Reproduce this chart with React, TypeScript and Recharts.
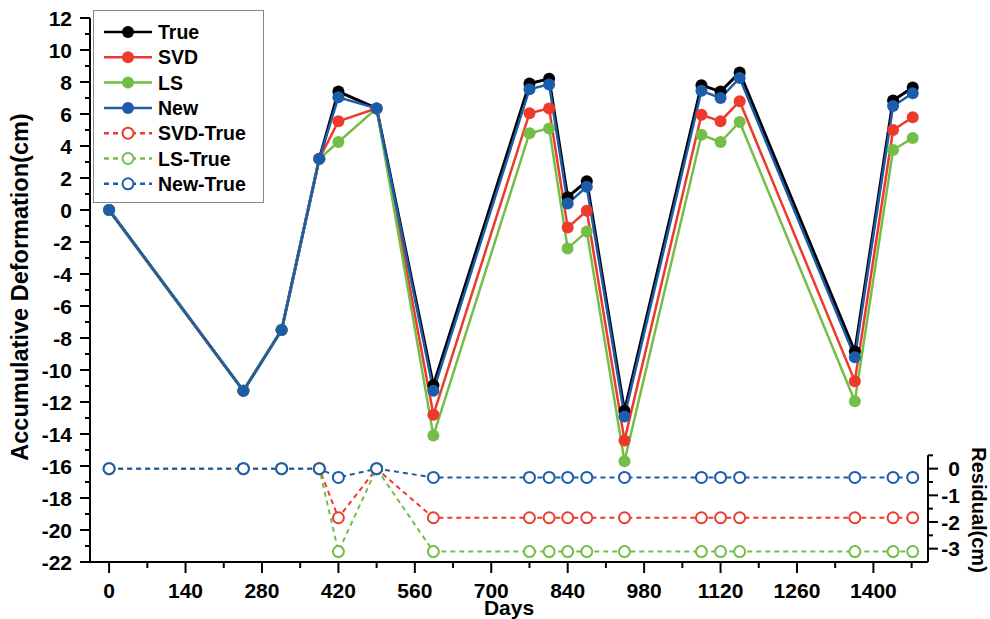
import React from 'react';
import { LineChart, Line, XAxis, YAxis, Legend, ReferenceLine } from 'recharts';

const days = [0, 246, 316, 385, 420, 490, 594, 770, 806, 840, 875, 944, 1085, 1120, 1155, 1366, 1436, 1472];
const trueVals = [0, -11.3, -7.5, 3.2, 7.4, 6.35, -10.95, 7.9, 8.2, 0.8, 1.8, -12.55, 7.8, 7.4, 8.6, -8.85, 6.85, 7.65];
const svdVals = [0, -11.3, -7.5, 3.2, 5.55, 6.35, -12.8, 6.05, 6.35, -1.1, -0.05, -14.4, 5.95, 5.55, 6.8, -10.7, 5.0, 5.8];
const lsVals = [0, -11.3, -7.5, 3.2, 4.25, 6.35, -14.1, 4.8, 5.1, -2.4, -1.35, -15.7, 4.7, 4.25, 5.5, -11.95, 3.75, 4.5];
const newVals = [0, -11.3, -7.5, 3.2, 7.05, 6.35, -11.3, 7.55, 7.85, 0.4, 1.45, -12.9, 7.45, 7.0, 8.25, -9.2, 6.5, 7.3];
const svdRes = [0, 0, 0, 0, -1.84, 0, -1.84, -1.84, -1.84, -1.84, -1.84, -1.84, -1.84, -1.84, -1.84, -1.84, -1.84, -1.84];
const lsRes = [0, 0, 0, 0, -3.11, 0, -3.11, -3.11, -3.11, -3.11, -3.11, -3.11, -3.11, -3.11, -3.11, -3.11, -3.11, -3.11];
const newRes = [0, 0, 0, 0, -0.33, 0, -0.33, -0.33, -0.33, -0.33, -0.33, -0.33, -0.33, -0.33, -0.33, -0.33, -0.33, -0.33];

const xTicks = [0, 70, 140, 210, 280, 350, 420, 490, 560, 630, 700, 770, 840, 910, 980, 1050, 1120, 1190, 1260, 1330, 1400, 1470];
const yTicks = [-22, -21, -20, -19, -18, -17, -16, -15, -14, -13, -12, -11, -10, -9, -8, -7, -6, -5, -4, -3, -2, -1, 0, 1, 2, 3, 4, 5, 6, 7, 8, 9, 10, 11, 12];
const resTicks = [0.5, 0, -0.5, -1, -1.5, -2, -2.5, -3];

const FONT = '"Liberation Sans", Arial, sans-serif';
const BLACK = '#000000';
const RED = '#EE3A2C';
const GREEN = '#74BE48';
const BLUE = '#1C5DAB';

const series = [
  { key: 'True', color: BLACK, dashed: false, axis: 'left', vals: trueVals, width: 3 },
  { key: 'SVD', color: RED, dashed: false, axis: 'left', vals: svdVals, width: 2.5 },
  { key: 'LS', color: GREEN, dashed: false, axis: 'left', vals: lsVals, width: 2.5 },
  { key: 'New', color: BLUE, dashed: false, axis: 'left', vals: newVals, width: 2.5 },
  { key: 'SVD-True', color: RED, dashed: true, axis: 'res', vals: svdRes, width: 2 },
  { key: 'LS-True', color: GREEN, dashed: true, axis: 'res', vals: lsRes, width: 2 },
  { key: 'New-True', color: BLUE, dashed: true, axis: 'res', vals: newRes, width: 2 },
];

const data = days.map((d, i) => {
  const row: any = { day: d };
  series.forEach((s) => { row[s.key] = s.vals[i]; });
  return row;
});

const XTick = (props: any) => {
  const { x, y, payload } = props;
  const major = payload.value % 140 === 0;
  return (
    <g>
      <line x1={x} x2={x} y1={y} y2={y + (major ? 11 : 6)} stroke="#000" strokeWidth={2} />
      {major && (
        <text x={x} y={y + 36} textAnchor="middle" fontSize={21} fontWeight="bold" fontFamily={FONT} fill="#000">
          {payload.value}
        </text>
      )}
    </g>
  );
};

const YTick = (props: any) => {
  const { x, y, payload } = props;
  const major = payload.value % 2 === 0;
  return (
    <g>
      <line x1={x - (major ? 10 : 5)} x2={x} y1={y} y2={y} stroke="#000" strokeWidth={2} />
      {major && (
        <text x={x - 18} y={y + 7.5} textAnchor="end" fontSize={21} fontWeight="bold" fontFamily={FONT} fill="#000">
          {payload.value}
        </text>
      )}
    </g>
  );
};

const RTick = (props: any) => {
  const { x, y, payload } = props;
  const major = Number.isInteger(payload.value);
  return (
    <g>
      <line x1={x} x2={x + (major ? 10 : 5)} y1={y} y2={y} stroke="#000" strokeWidth={2} />
      {major && (
        <text x={x + 32} y={y + 7.5} textAnchor="end" fontSize={21} fontWeight="bold" fontFamily={FONT} fill="#000">
          {payload.value}
        </text>
      )}
    </g>
  );
};

const LegendBox = () => (
  <div style={{ border: '1.5px solid #888', background: '#fff', width: 171, height: 193, boxSizing: 'border-box' }}>
    <svg width={168} height={190}>
      {series.map((s, i) => {
        const cy = 21 + i * 25.3;
        return (
          <g key={s.key}>
            <line x1={10} x2={58} y1={cy} y2={cy} stroke={s.color} strokeWidth={2.5} strokeDasharray={s.dashed ? '5 4' : undefined} />
            {s.dashed ? (
              <circle cx={34} cy={cy} r={5.5} fill="#fff" stroke={s.color} strokeWidth={2} />
            ) : (
              <circle cx={34} cy={cy} r={6} fill={s.color} />
            )}
            <text x={64} y={cy + 7} fontSize={19.5} fontWeight="bold" fontFamily={FONT} fill="#000">{s.key}</text>
          </g>
        );
      })}
    </svg>
  </div>
);

const LeftTitle = (props: any) => {
  const vb = props.viewBox;
  const cx = vb.x + 28;
  const cy = vb.y + vb.height / 2 - 3;
  return (
    <text x={cx} y={cy} transform={`rotate(-90, ${cx}, ${cy})`} textAnchor="middle" fontSize={23.5} fontWeight="bold" fontFamily={FONT} fill="#000">
      Accumulative Deformation(cm)
    </text>
  );
};

const RightTitle = (props: any) => {
  const vb = props.viewBox;
  const cx = vb.x + 44;
  const cy = vb.y + vb.height - 52;
  return (
    <text x={cx} y={cy} transform={`rotate(90, ${cx}, ${cy})`} textAnchor="middle" fontSize={20} fontWeight="bold" fontFamily={FONT} fill="#000">
      Residual(cm)
    </text>
  );
};

const BottomTitle = (props: any) => {
  const vb = props.viewBox;
  return (
    <text x={vb.x + vb.width / 2} y={vb.y + 53} textAnchor="middle" fontSize={21} fontWeight="bold" fontFamily={FONT} fill="#000">
      Days
    </text>
  );
};

export default function App() {
  return (
    <div style={{ position: 'absolute', left: 0, top: 0, width: 990, height: 619, background: '#fff' }}>
      <LineChart width={990} height={619} data={data} margin={{ top: 18, right: 0, bottom: 0, left: 0 }}>
        <XAxis
          dataKey="day"
          type="number"
          domain={[-35, 1500]}
          ticks={xTicks}
          interval={0}
          allowDataOverflow
          height={57}
          tickSize={0}
          tickMargin={0}
          tickLine={false}
          tick={<XTick />}
          axisLine={{ stroke: '#000', strokeWidth: 2 }}
          label={<BottomTitle />}
        />
        <YAxis
          yAxisId="left"
          orientation="left"
          type="number"
          domain={[-22, 12]}
          ticks={yTicks}
          interval={0}
          allowDataOverflow
          width={90}
          tickSize={0}
          tickMargin={0}
          tickLine={false}
          tick={<YTick />}
          axisLine={{ stroke: '#000', strokeWidth: 2 }}
          label={<LeftTitle />}
        />
        <YAxis
          yAxisId="res"
          orientation="right"
          type="number"
          domain={[-3.5, 16.9]}
          ticks={resTicks}
          interval={0}
          allowDataOverflow
          width={62}
          tickSize={0}
          tickMargin={0}
          tickLine={false}
          tick={<RTick />}
          axisLine={false}
          label={<RightTitle />}
        />
        <ReferenceLine
          yAxisId="res"
          segment={[{ x: 1500, y: -3.5 }, { x: 1500, y: 0.5 }]}
          stroke="#000"
          strokeWidth={2}
          ifOverflow="visible"
        />
        {series.map((s) => (
          <Line
            key={s.key}
            yAxisId={s.axis}
            dataKey={s.key}
            type="linear"
            stroke={s.color}
            strokeWidth={s.width}
            strokeDasharray={s.dashed ? '5 4' : undefined}
            dot={s.dashed
              ? { r: 5.5, fill: '#fff', stroke: s.color, strokeWidth: 2, strokeDasharray: 'none' }
              : { r: 6, fill: s.color, stroke: s.color, strokeWidth: 0 }}
            activeDot={false}
            isAnimationActive={false}
          />
        ))}
        <Legend
          layout="vertical"
          align="center"
          verticalAlign="middle"
          wrapperStyle={{ left: 93, top: 10, width: 171, height: 193 }}
          content={<LegendBox />}
        />
      </LineChart>
    </div>
  );
}
